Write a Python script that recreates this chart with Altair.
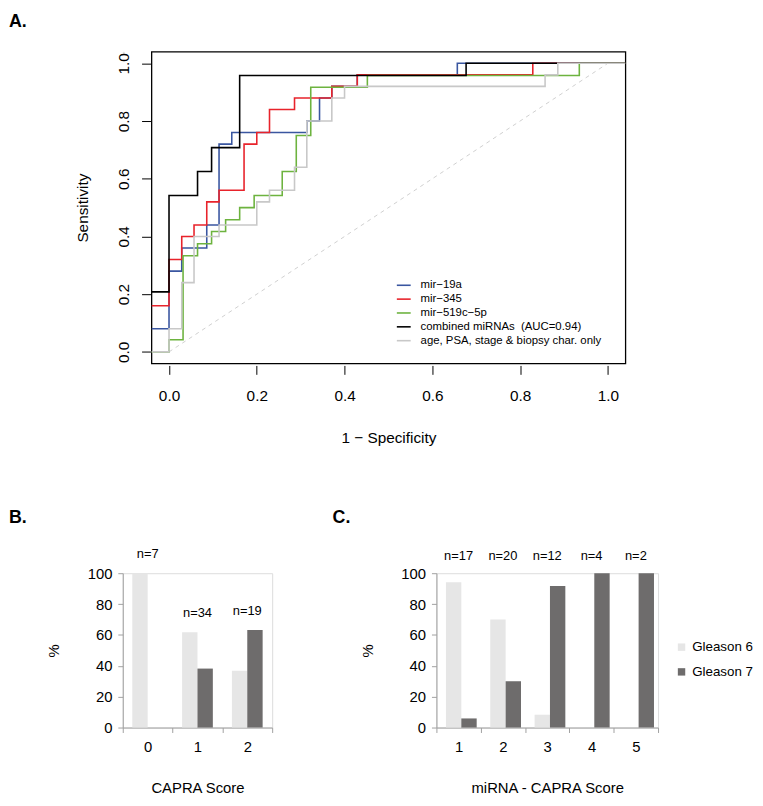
import altair as alt
import pandas as pd

FONT = "Liberation Sans"

# ---------------- Panel A: ROC curves (step vertices, drawn step-after) ----------------
roc_names = [
    "mir\u221219a",
    "mir\u2212345",
    "mir\u2212519c\u22125p",
    "combined miRNAs\u00a0\u00a0(AUC=0.94)",
    "age, PSA, stage & biopsy char. only",
]
roc_colors = ["#3a56a0", "#e8232b", "#6db33f", "#000000", "#c8c8c8"]

fpr_mir19a = [-0.04, 0.0, 0.029, 0.086, 0.114, 0.143, 0.314, 0.343, 0.371, 0.429, 0.657, 1.04]
tpr_mir19a = [0.08, 0.28, 0.36, 0.44, 0.72, 0.76, 0.80, 0.88, 0.92, 0.96, 1.0, 1.0]

fpr_mir345 = [-0.04, 0.0, 0.029, 0.057, 0.086, 0.114, 0.171, 0.2, 0.229, 0.286, 0.371, 0.429, 0.829, 1.04]
tpr_mir345 = [0.16, 0.32, 0.40, 0.44, 0.52, 0.56, 0.72, 0.76, 0.84, 0.88, 0.92, 0.96, 1.0, 1.0]

fpr_mir519c = [-0.04, 0.0, 0.032, 0.065, 0.097, 0.129, 0.161, 0.194, 0.258, 0.290, 0.323, 0.452, 0.935, 1.04]
tpr_mir519c = [0.0, 0.042, 0.333, 0.375, 0.417, 0.458, 0.5, 0.542, 0.625, 0.75, 0.917, 0.958, 1.0, 1.0]

fpr_combined = [-0.04, 0.0, 0.065, 0.097, 0.161, 0.677, 1.04]
tpr_combined = [0.208, 0.542, 0.625, 0.708, 0.958, 1.0, 1.0]

fpr_clinical = [-0.04, 0.0, 0.029, 0.057, 0.114, 0.2, 0.229, 0.286, 0.314, 0.371, 0.4, 0.857, 0.886, 1.04]
tpr_clinical = [0.0, 0.08, 0.24, 0.40, 0.44, 0.52, 0.56, 0.64, 0.80, 0.88, 0.92, 0.96, 1.0, 1.0]

diag_x = [0.0, 1.0]
diag_y = [0.0, 1.0]
roc_ticks = [0.0, 0.2, 0.4, 0.6, 0.8, 1.0]

# ---------------- Panel B / C: Gleason distribution ----------------
grades = ["Gleason 6", "Gleason 7"]
grade_colors = ["#e6e6e6", "#6e6c6c"]

capra_scores = ["0", "1", "2"]
capra_g6 = [100.0, 61.8, 36.8]
capra_g7 = [0.0, 38.2, 63.2]
capra_n = ["n=7", "n=34", "n=19"]

mirna_scores = ["1", "2", "3", "4", "5"]
mirna_g6 = [94.1, 70.0, 8.3, 0.0, 0.0]
mirna_g7 = [5.9, 30.0, 91.7, 100.0, 100.0]
mirna_n = ["n=17", "n=20", "n=12", "n=4", "n=2"]

pct_ticks = [0, 20, 40, 60, 80, 100]

# ---------------- build ROC panel ----------------
curves = [
    (fpr_mir19a, tpr_mir19a),
    (fpr_mir345, tpr_mir345),
    (fpr_mir519c, tpr_mir519c),
    (fpr_combined, tpr_combined),
    (fpr_clinical, tpr_clinical),
]
rows = []
for name, (xs, ys) in zip(roc_names, curves):
    for i, (xv, yv) in enumerate(zip(xs, ys)):
        rows.append({"curve": name, "fpr": xv, "tpr": yv, "i": i})
roc_df = pd.DataFrame(rows)
diag_df = pd.DataFrame({"fpr": diag_x, "tpr": diag_y})

xscale = alt.Scale(domain=[-0.04, 1.04], nice=False, zero=False)
yscale = alt.Scale(domain=[-0.04, 1.04], nice=False, zero=False)

x_axis = alt.Axis(values=roc_ticks, format=".1f", domain=False, grid=False, tickSize=9,
                  tickColor="black", tickWidth=1, offset=2, labelFontSize=15.5, labelPadding=14,
                  labelFlush=False, labelOverlap=False, title="1 \u2212 Specificity",
                  titleFontSize=15.5, titleFontWeight="normal", titlePadding=27)
y_axis = alt.Axis(values=roc_ticks, format=".1f", domain=False, grid=False, tickSize=9,
                  tickColor="black", tickWidth=1, offset=1, labelFontSize=15.5, labelPadding=10,
                  labelAngle=270, labelAlign="center", labelBaseline="bottom", labelFlush=False,
                  labelOverlap=False, title="Sensitivity", titleFontSize=15.5,
                  titleFontWeight="normal", titlePadding=27)

# legend position is measured from the row origin (panel A is shifted 29 px in its row)
roc_legend = alt.Legend(title=None, orient="none", legendX=276, legendY=228, symbolType="stroke",
                        symbolSize=196, symbolStrokeWidth=1.6, labelFontSize=11.5, labelFont=FONT,
                        rowPadding=0, labelOffset=9, labelLimit=400, padding=0)

diag = alt.Chart(diag_df).mark_line(color="#cfcfcf", strokeDash=[4, 4], strokeWidth=1).encode(
    x=alt.X("fpr:Q", scale=xscale, axis=x_axis),
    y=alt.Y("tpr:Q", scale=yscale, axis=y_axis),
)

layers = [diag]
for name in roc_names:
    layers.append(
        alt.Chart(roc_df).transform_filter(alt.datum.curve == name)
        .mark_line(interpolate="step-after", strokeWidth=1.6, clip=True)
        .encode(
            x=alt.X("fpr:Q", scale=xscale, axis=x_axis),
            y=alt.Y("tpr:Q", scale=yscale, axis=y_axis),
            color=alt.Color("curve:N", scale=alt.Scale(domain=roc_names, range=roc_colors),
                            legend=roc_legend),
            order="i:Q",
        )
    )

roc = alt.layer(*layers).properties(
    width=479, height=315,
    view=alt.ViewBackground(stroke="black", strokeWidth=1.3),
    title=alt.TitleParams("A.", anchor="start", frame="group", dx=-144, offset=7,
                          fontSize=18, fontWeight="bold", font=FONT, color="black",
                          baseline="alphabetic"),
)

# invisible spacer that shifts panel A 29 px right of panel B
spacer = alt.Chart(pd.DataFrame({"v": [0]})).mark_point(opacity=0).encode(
    x=alt.value(0), y=alt.value(0)
).properties(width=1, height=1)

roc_row = alt.concat(spacer, roc, columns=2, spacing=28, bounds="flush")


# ---------------- bar panels ----------------
def bar_panel(scores, g6, g7, ns, xtitle, width, panel, dx, legend, fixed_top, toff):
    long_rows = []
    for s, a, b in zip(scores, g6, g7):
        long_rows.append({"score": s, "grade": grades[0], "pct": a})
        long_rows.append({"score": s, "grade": grades[1], "pct": b})
    bdf = pd.DataFrame(long_rows)
    ldf = pd.DataFrame({"score": scores, "n": ns, "g6": g6, "g7": g7})

    xax = alt.Axis(labelAngle=0, tickBand="extent", domainColor="#a0a0a0", tickColor="#a0a0a0",
                   tickSize=5, labelFontSize=15, labelPadding=7, title=xtitle,
                   titleFontSize=15, titleFontWeight="normal", titlePadding=27, grid=False)
    yax = alt.Axis(values=pct_ticks, domainColor="#a0a0a0", tickColor="#a0a0a0", tickSize=5,
                   labelFontSize=15, labelPadding=6, labelOverlap=False, labelFlush=False,
                   title="%", titleFontSize=15, titleFontWeight="normal", titlePadding=26,
                   grid=False)
    xs = alt.Scale(domain=scores, paddingInner=0, paddingOuter=0)
    ys = alt.Scale(domain=[0, 100], nice=False)

    bars = alt.Chart(bdf).mark_bar().encode(
        x=alt.X("score:N", scale=xs, axis=xax, sort=scores),
        xOffset=alt.XOffset("grade:N", scale=alt.Scale(domain=grades, paddingOuter=0.62,
                                                       paddingInner=0)),
        y=alt.Y("pct:Q", scale=ys, axis=yax),
        color=alt.Color("grade:N", scale=alt.Scale(domain=grades, range=grade_colors),
                        legend=legend),
    )
    if fixed_top:
        lab = alt.Chart(ldf).transform_calculate(top="100")
    else:
        lab = alt.Chart(ldf).transform_calculate(top="max(datum.g6, datum.g7)")
    labels = lab.mark_text(dy=-19 if not fixed_top else -17, fontSize=13, font=FONT,
                           color="black").encode(
        x=alt.X("score:N", scale=xs, sort=scores, axis=xax),
        y=alt.Y("top:Q", scale=ys, axis=yax),
        text="n:N",
    )
    return alt.layer(bars, labels).properties(
        width=width, height=156,
        title=alt.TitleParams(panel, anchor="start", frame="group", dx=dx, offset=toff,
                              fontSize=18, fontWeight="bold", font=FONT, color="black",
                              baseline="alphabetic"),
    )


panel_b = bar_panel(capra_scores, capra_g6, capra_g7, capra_n, "CAPRA Score", 151, "B.", -115,
                    None, False, 8)
panel_c = bar_panel(mirna_scores, mirna_g6, mirna_g7, mirna_n, "miRNA - CAPRA Score", 224, "C.",
                    -105,
                    alt.Legend(title=None, orient="none", legendX=241, legendY=68,
                               symbolType="square", symbolSize=56, symbolStrokeWidth=0,
                               labelFontSize=13.5, labelFont=FONT, rowPadding=10, labelOffset=4,
                               padding=0),
                    True, 10)

bottom = alt.concat(panel_b, panel_c, columns=2, spacing=59).resolve_scale(color="independent")

chart = alt.concat(roc_row, bottom, columns=1, spacing=62).resolve_scale(
    color="independent"
).properties(padding=0).configure_view(strokeWidth=0).configure_axis(
    labelFont=FONT, titleFont=FONT, labelColor="black", titleColor="black",
    titleFontWeight="normal"
).configure(background="white")

chart.save("out.html", embed_options={"renderer": "svg", "actions": False})
